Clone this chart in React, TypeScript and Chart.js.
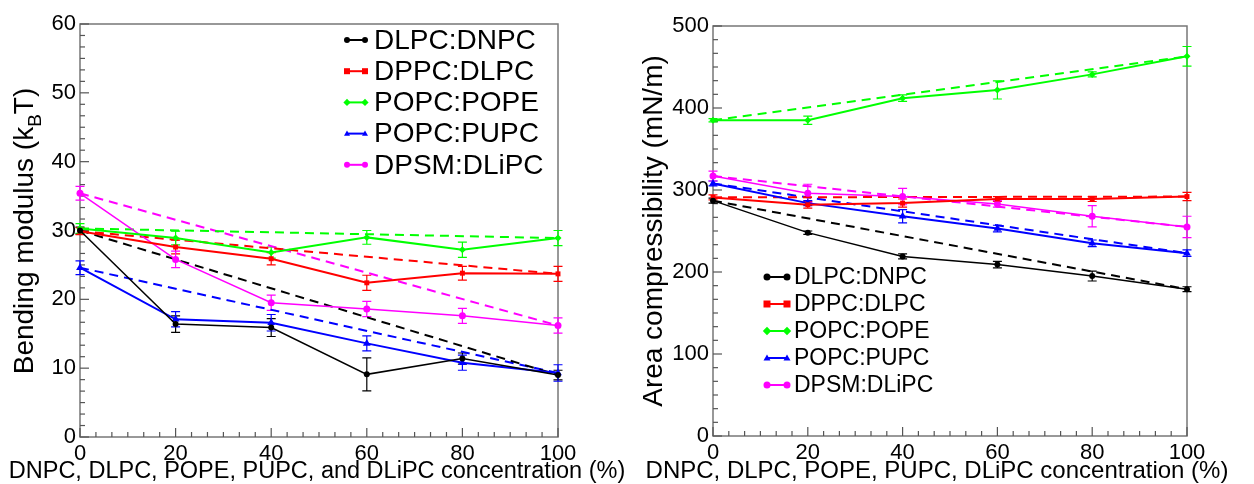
import React, { useEffect, useRef } from 'react';
import { Chart, registerables } from 'chart.js';

Chart.register(...registerables);

// ---------------- data ----------------
const concentration = [0, 20, 40, 60, 80, 100];
const idealX = [0, 100];

const seriesNames = ['DLPC:DNPC', 'DPPC:DLPC', 'POPC:POPE', 'POPC:PUPC', 'DPSM:DLiPC'];
const seriesColors = ['#000000', '#ff0000', '#00ff00', '#0000ff', '#ff00ff'];
const markerShapes = ['circle', 'rect', 'rectRot', 'triangle', 'circle'];

// Bending modulus (kBT)
const bendDLPC_DNPC = [30.0, 16.4, 15.9, 9.1, 11.4, 9.0];
const bendDLPC_DNPC_err = [0.5, 1.2, 1.3, 2.4, 0.8, 0.7];
const bendDPPC_DLPC = [29.9, 27.6, 25.9, 22.4, 23.8, 23.7];
const bendDPPC_DLPC_err = [0.5, 1.0, 0.9, 1.1, 1.0, 1.1];
const bendPOPC_POPE = [30.3, 28.9, 26.8, 29.0, 27.2, 28.9];
const bendPOPC_POPE_err = [0.7, 1.0, 0.8, 1.0, 1.1, 1.1];
const bendPOPC_PUPC = [24.6, 17.1, 16.6, 13.6, 10.8, 9.3];
const bendPOPC_PUPC_err = [1.0, 1.1, 1.2, 1.1, 1.1, 1.2];
const bendDPSM_DLiPC = [35.4, 25.8, 19.5, 18.6, 17.6, 16.2];
const bendDPSM_DLiPC_err = [1.0, 1.2, 1.1, 1.1, 1.1, 1.1];

const bendIdeal_DLPC_DNPC = [30.0, 9.0];
const bendIdeal_DPPC_DLPC = [29.9, 23.7];
const bendIdeal_POPC_POPE = [30.3, 28.9];
const bendIdeal_POPC_PUPC = [24.6, 9.3];
const bendIdeal_DPSM_DLiPC = [35.4, 16.2];

// Area compressibility (mN/m)
const compDLPC_DNPC = [287, 248, 219, 209, 195, 179];
const compDLPC_DNPC_err = [3, 2, 3, 4, 6, 3];
const compDPPC_DLPC = [291, 282, 284, 289, 289, 292];
const compDPPC_DLPC_err = [3, 4, 5, 3, 3, 5];
const compPOPC_POPE = [385, 385, 412, 422, 441, 463];
const compPOPC_POPE_err = [2, 5, 4, 11, 3, 12];
const compPOPC_PUPC = [308, 284, 268, 253, 235, 223];
const compPOPC_PUPC_err = [3, 3, 8, 4, 4, 4];
const compDPSM_DLiPC = [317, 296, 292, 283, 268, 255];
const compDPSM_DLiPC_err = [6, 11, 10, 4, 13, 13];

const compIdeal_DLPC_DNPC = [287, 179];
const compIdeal_DPPC_DLPC = [291, 292];
const compIdeal_POPC_POPE = [385, 463];
const compIdeal_POPC_PUPC = [308, 223];
const compIdeal_DPSM_DLiPC = [317, 255];

const xTicks = [0, 20, 40, 60, 80, 100];
const bendTicks = [0, 10, 20, 30, 40, 50, 60];
const compTicks = [0, 100, 200, 300, 400, 500];

const bendSeries = [bendDLPC_DNPC, bendDPPC_DLPC, bendPOPC_POPE, bendPOPC_PUPC, bendDPSM_DLiPC];
const bendErrors = [bendDLPC_DNPC_err, bendDPPC_DLPC_err, bendPOPC_POPE_err, bendPOPC_PUPC_err, bendDPSM_DLiPC_err];
const bendIdeal = [bendIdeal_DLPC_DNPC, bendIdeal_DPPC_DLPC, bendIdeal_POPC_POPE, bendIdeal_POPC_PUPC, bendIdeal_DPSM_DLiPC];

const compSeries = [compDLPC_DNPC, compDPPC_DLPC, compPOPC_POPE, compPOPC_PUPC, compDPSM_DLiPC];
const compErrors = [compDLPC_DNPC_err, compDPPC_DLPC_err, compPOPC_POPE_err, compPOPC_PUPC_err, compDPSM_DLiPC_err];
const compIdeal = [compIdeal_DLPC_DNPC, compIdeal_DPPC_DLPC, compIdeal_POPC_POPE, compIdeal_POPC_PUPC, compIdeal_DPSM_DLiPC];

const FONT = '"Liberation Sans", Arial, Helvetica, sans-serif';
const solidWidths = [1.5, 2, 2, 2, 1.5];
const markerRadius = [3, 3.5, 3.5, 4.5, 3.5];

// ---------------- helpers ----------------
function drawMarker(ctx: CanvasRenderingContext2D, shape: string, x: number, y: number, r: number, color: string) {
  ctx.save();
  ctx.fillStyle = color;
  ctx.beginPath();
  if (shape === 'circle') {
    ctx.arc(x, y, r, 0, Math.PI * 2);
  } else if (shape === 'rect') {
    ctx.rect(x - r, y - r, 2 * r, 2 * r);
  } else if (shape === 'rectRot') {
    ctx.moveTo(x, y - r * 1.2);
    ctx.lineTo(x + r * 1.2, y);
    ctx.lineTo(x, y + r * 1.2);
    ctx.lineTo(x - r * 1.2, y);
    ctx.closePath();
  } else if (shape === 'triangle') {
    ctx.moveTo(x, y - r);
    ctx.lineTo(x + r, y + r * 0.7);
    ctx.lineTo(x - r, y + r * 0.7);
    ctx.closePath();
  }
  ctx.fill();
  ctx.restore();
}

function buildDatasets(series: number[][], errors: number[][], ideal: number[][]) {
  const sets: any[] = [];
  series.forEach((vals, i) => {
    sets.push({
      label: seriesNames[i],
      data: concentration.map((x, j) => ({ x, y: vals[j] })),
      errors: errors[i],
      borderColor: seriesColors[i],
      backgroundColor: seriesColors[i],
      borderWidth: solidWidths[i],
      pointStyle: markerShapes[i],
      pointRadius: markerRadius[i],
      pointBorderWidth: 0,
      pointHoverRadius: markerRadius[i],
      tension: 0,
      clip: false,
      order: 1,
    });
  });
  ideal.forEach((vals, i) => {
    sets.push({
      label: seriesNames[i] + ' ideal',
      data: idealX.map((x, j) => ({ x, y: vals[j] })),
      borderColor: seriesColors[i],
      backgroundColor: seriesColors[i],
      borderWidth: 2,
      borderDash: [9, 6],
      pointRadius: 0,
      tension: 0,
      clip: false,
      order: 2,
    });
  });
  return sets;
}

const errorBarPlugin = {
  id: 'errorBars',
  beforeDatasetsDraw(chart: any) {
    const ctx = chart.ctx;
    const xs = chart.scales.x;
    const ys = chart.scales.y;
    chart.data.datasets.forEach((ds: any) => {
      if (!ds.errors) return;
      ctx.save();
      ctx.strokeStyle = ds.borderColor;
      ctx.lineWidth = 1.2;
      ds.data.forEach((p: any, j: number) => {
        const e = ds.errors[j];
        const px = xs.getPixelForValue(p.x);
        const t = ys.getPixelForValue(p.y + e);
        const b = ys.getPixelForValue(p.y - e);
        ctx.beginPath();
        ctx.moveTo(px, t);
        ctx.lineTo(px, b);
        ctx.moveTo(px - 4.5, t);
        ctx.lineTo(px + 4.5, t);
        ctx.moveTo(px - 4.5, b);
        ctx.lineTo(px + 4.5, b);
        ctx.stroke();
      });
      ctx.restore();
    });
  },
};

const frameTicksPlugin = {
  id: 'frameTicks',
  beforeDatasetsDraw(chart: any) {
    const { ctx, chartArea } = chart;
    const { left, right, top, bottom } = chartArea;
    const xs = chart.scales.x;
    const ys = chart.scales.y;
    ctx.save();
    ctx.strokeStyle = '#777777';
    ctx.lineWidth = 1.5;
    ctx.strokeRect(left, top, right - left, bottom - top);
    ctx.strokeStyle = '#555555';
    ctx.lineWidth = 1.2;
    const xt = xs.ticks.map((t: any) => t.value);
    const xStep = xt[1] - xt[0];
    for (let k = 0; k <= (xt.length - 1) * 6; k++) {
      const v = xt[0] + (k * xStep) / 6;
      const px = xs.getPixelForValue(v);
      const len = k % 6 === 0 ? 9 : 5;
      ctx.beginPath();
      ctx.moveTo(px, bottom);
      ctx.lineTo(px, bottom - len);
      ctx.stroke();
    }
    const yt = ys.ticks.map((t: any) => t.value);
    const yStep = yt[1] - yt[0];
    for (let k = 0; k <= (yt.length - 1) * 6; k++) {
      const v = yt[0] + (k * yStep) / 6;
      const py = ys.getPixelForValue(v);
      const len = k % 6 === 0 ? 9 : 5;
      ctx.beginPath();
      ctx.moveTo(left, py);
      ctx.lineTo(left + len, py);
      ctx.stroke();
    }
    ctx.restore();
  },
};

function makeTextPlugin(cfg: any) {
  return {
    id: 'texts',
    afterDraw(chart: any) {
      const ctx = chart.ctx;
      ctx.save();
      ctx.fillStyle = '#000';
      ctx.font = `${cfg.xTitleSize}px ${FONT}`;
      ctx.textAlign = 'center';
      ctx.textBaseline = 'alphabetic';
      ctx.fillText(cfg.xTitle, cfg.xTitleX, cfg.xTitleY);
      ctx.save();
      ctx.translate(cfg.yTitleX, cfg.yTitleY);
      ctx.rotate(-Math.PI / 2);
      ctx.textAlign = 'left';
      const big = `${cfg.yTitleSize}px ${FONT}`;
      const small = `${Math.round(cfg.yTitleSize * 0.68)}px ${FONT}`;
      let total = 0;
      cfg.yTitleParts.forEach((p: any) => {
        ctx.font = p.sub ? small : big;
        total += ctx.measureText(p.text).width;
      });
      let x = -total / 2;
      cfg.yTitleParts.forEach((p: any) => {
        ctx.font = p.sub ? small : big;
        ctx.fillText(p.text, x, p.sub ? cfg.yTitleSize * 0.3 : 0);
        x += ctx.measureText(p.text).width;
      });
      ctx.restore();
      const lg = cfg.legend;
      ctx.font = `${lg.size}px ${FONT}`;
      ctx.textAlign = 'left';
      ctx.textBaseline = 'middle';
      seriesNames.forEach((name, i) => {
        const y = lg.y0 + i * lg.dy;
        ctx.strokeStyle = seriesColors[i];
        ctx.lineWidth = 2;
        ctx.beginPath();
        ctx.moveTo(lg.x0, y);
        ctx.lineTo(lg.x1, y);
        ctx.stroke();
        drawMarker(ctx, markerShapes[i], lg.x0, y, lg.mr, seriesColors[i]);
        drawMarker(ctx, markerShapes[i], lg.x1, y, lg.mr, seriesColors[i]);
        ctx.fillStyle = '#000';
        ctx.fillText(name, lg.tx, y + 1);
      });
      ctx.restore();
    },
  };
}

function makeConfig(series: number[][], errors: number[][], ideal: number[][], yMax: number, yTicksArr: number[], yWidth: number, xHeight: number, pad: any, textCfg: any) {
  return {
    type: 'line',
    data: { datasets: buildDatasets(series, errors, ideal) },
    options: {
      animation: false,
      responsive: false,
      events: [],
      layout: { padding: pad },
      plugins: { legend: { display: false }, tooltip: { enabled: false }, title: { display: false } },
      scales: {
        x: {
          type: 'linear',
          min: 0,
          max: 100,
          afterBuildTicks: (s: any) => { s.ticks = xTicks.map((v) => ({ value: v })); },
          afterFit: (s: any) => { s.height = xHeight; },
          grid: { display: false, drawTicks: false },
          border: { display: false },
          ticks: { color: '#000', font: { family: FONT, size: 22 }, padding: 4, maxRotation: 0, autoSkip: false },
        },
        y: {
          type: 'linear',
          min: 0,
          max: yMax,
          afterBuildTicks: (s: any) => { s.ticks = yTicksArr.map((v) => ({ value: v })); },
          afterFit: (s: any) => { s.width = yWidth; },
          grid: { display: false, drawTicks: false },
          border: { display: false },
          ticks: { color: '#000', font: { family: FONT, size: 22 }, padding: 4, autoSkip: false },
        },
      },
    },
    plugins: [frameTicksPlugin, errorBarPlugin, makeTextPlugin(textCfg)],
  };
}

export default function App() {
  const leftRef = useRef<HTMLCanvasElement>(null);
  const rightRef = useRef<HTMLCanvasElement>(null);

  useEffect(() => {
    const leftCfg: any = makeConfig(
      bendSeries, bendErrors, bendIdeal, 60, bendTicks, 80, 47,
      { top: 24, right: 69, left: 0, bottom: 0 },
      {
        xTitle: 'DNPC, DLPC, POPE, PUPC, and DLiPC concentration (%)',
        xTitleSize: 23.5, xTitleX: 317, xTitleY: 478,
        yTitleParts: [{ text: 'Bending modulus (k' }, { text: 'B', sub: true }, { text: 'T)' }],
        yTitleSize: 28, yTitleX: 33, yTitleY: 231,
        legend: { x0: 347, x1: 365, tx: 374, y0: 40, dy: 31.2, size: 28, mr: 3 },
      }
    );
    const rightCfg: any = makeConfig(
      compSeries, compErrors, compIdeal, 500, compTicks, 86, 48,
      { top: 26, right: 67, left: 0, bottom: 0 },
      {
        xTitle: 'DNPC, DLPC, POPE, PUPC, DLiPC concentration (%)',
        xTitleSize: 24, xTitleX: 310, xTitleY: 478,
        yTitleParts: [{ text: 'Area compressibility (mN/m)' }],
        yTitleSize: 28, yTitleX: 35, yTitleY: 231,
        legend: { x0: 140, x1: 160, tx: 167, y0: 277, dy: 27, size: 23, mr: 3.5 },
      }
    );
    const c1 = new Chart(leftRef.current as HTMLCanvasElement, leftCfg);
    const c2 = new Chart(rightRef.current as HTMLCanvasElement, rightCfg);
    return () => {
      c1.destroy();
      c2.destroy();
    };
  }, []);

  return (
    <div style={{ position: 'absolute', left: 0, top: 0, width: 1254, height: 484, background: '#fff', display: 'flex' }}>
      <canvas ref={leftRef} width={627} height={484} style={{ display: 'block', width: 627, height: 484 }} />
      <canvas ref={rightRef} width={627} height={484} style={{ display: 'block', width: 627, height: 484 }} />
    </div>
  );
}
